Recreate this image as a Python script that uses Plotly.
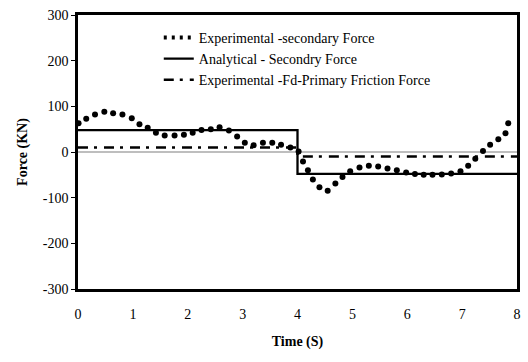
import plotly.graph_objects as go

# Experimental secondary force (dotted)
exp_t = [0.01, 0.15, 0.31, 0.48, 0.64, 0.81, 0.98, 1.12, 1.27, 1.42, 1.58, 1.76, 1.93, 2.09,
         2.25, 2.42, 2.58, 2.75, 2.90, 3.04, 3.20, 3.37, 3.54, 3.70, 3.87, 4.02, 4.10, 4.19,
         4.28, 4.40, 4.55, 4.69, 4.82, 4.96, 5.13, 5.30, 5.47, 5.64, 5.81, 5.98, 6.14, 6.30,
         6.46, 6.63, 6.80, 6.97, 7.11, 7.24, 7.38, 7.51, 7.66, 7.79, 7.84]
exp_f = [63, 73, 82, 88, 85, 82, 74, 61, 53, 42, 36, 36, 38, 42,
         48, 50, 54, 47, 34, 20, 15, 20, 20, 16, 10, 1, -21, -40,
         -60, -77, -85, -69, -55, -42, -34, -30, -32, -36, -40, -45, -48, -50,
         -50, -49, -47, -42, -30, -15, 2, 16, 28, 41, 63]

# Analytical secondary force (step)
ana_t = [0, 4, 4, 8]
ana_f = [48, 48, -48, -48]

# Experimental Fd primary friction force (dash-dot)
fric_t = [0, 4, 4, 8]
fric_f = [10, 10, -10, -10]

x_ticks = [0, 1, 2, 3, 4, 5, 6, 7, 8]
y_ticks = [-300, -200, -100, 0, 100, 200, 300]
y_tick_text = ["-300", "-200", "-100", "0", "100", "200", "300"]

FONT = "Liberation Serif"

fig = go.Figure()

# zero line
fig.add_trace(go.Scatter(x=[0, 8], y=[0, 0], mode="lines",
                         line=dict(color="#7f7f7f", width=1.2),
                         showlegend=False, hoverinfo="skip"))

fig.add_trace(go.Scatter(x=exp_t, y=exp_f, mode="markers",
                         marker=dict(color="black", size=6),
                         showlegend=False))
# legend entry for dotted series
fig.add_trace(go.Scatter(x=[None], y=[None], mode="lines",
                         line=dict(color="black", width=4, dash="3px,5px"),
                         name="Experimental -secondary Force", legendgroup="a"))

fig.add_trace(go.Scatter(x=ana_t, y=ana_f, mode="lines",
                         line=dict(color="black", width=2.3),
                         name="Analytical - Secondry Force", legendgroup="b"))

fig.add_trace(go.Scatter(x=fric_t, y=fric_f, mode="lines",
                         line=dict(color="black", width=2.5, dash="10px,6px,3px,7px"),
                         name="Experimental -Fd-Primary Friction Force", legendgroup="c"))

fig.update_layout(
    width=528, height=362,
    margin=dict(l=78, r=7, t=15, b=73),
    paper_bgcolor="white", plot_bgcolor="white",
    font=dict(family=FONT, size=14, color="black"),
    showlegend=True,
    legend=dict(x=0.184, y=0.975, xanchor="left", yanchor="top",
                bgcolor="rgba(0,0,0,0)", font=dict(family=FONT, size=14, color="black"),
                tracegroupgap=0, traceorder="grouped"),
    xaxis=dict(range=[0, 8], tickvals=x_ticks, ticks="", showgrid=False,
               zeroline=False, showline=True, linecolor="black", linewidth=2.5,
               mirror=True, ticklabelstandoff=10,
               tickfont=dict(family=FONT, size=14, color="black"),
               title=dict(text="<b>Time (S)</b>", font=dict(family=FONT, size=14),
                          standoff=16)),
    yaxis=dict(range=[-300, 300], tickvals=y_ticks, ticktext=y_tick_text,
               ticks="outside", ticklen=4,
               tickwidth=1, tickcolor="black", showgrid=False, zeroline=False,
               showline=True, linecolor="black", linewidth=2.5, mirror=True,
               tickfont=dict(family=FONT, size=14, color="black"),
               title=dict(text="<b>Force (KN)</b>", font=dict(family=FONT, size=14),
                          standoff=12)),
)

fig.write_html("out.html")
